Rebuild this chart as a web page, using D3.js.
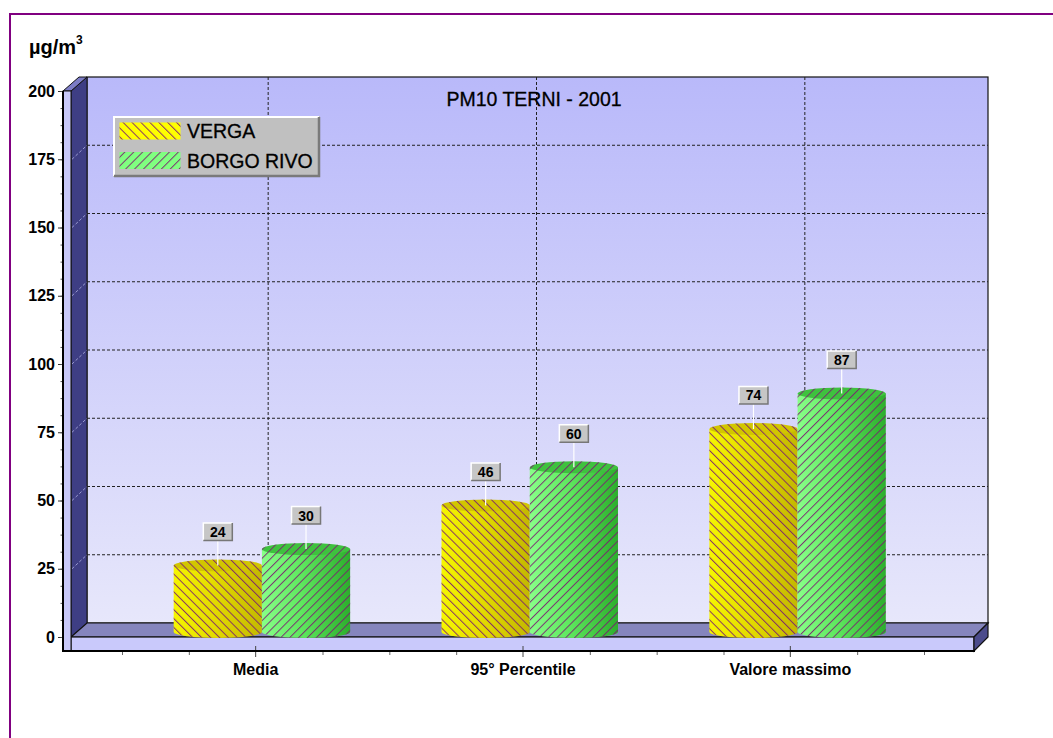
<!DOCTYPE html>
<html><head><meta charset="utf-8">
<script src="https://cdn.jsdelivr.net/npm/d3@7"></script>
<style>html,body{margin:0;padding:0;background:#fff;} svg{display:block;font-family:"Liberation Sans",Arial,sans-serif;}</style>
</head><body><svg id="c" width="1053" height="738"></svg>
<script>
// ---- data ----
const categories = ["Media", "95° Percentile", "Valore massimo"];
const seriesNames = ["VERGA", "BORGO RIVO"];
const verga = [24, 46, 74];
const borgoRivo = [30, 60, 87];
const yTickValues = [0, 25, 50, 75, 100, 125, 150, 175, 200];
const chartTitle = "PM10 TERNI - 2001";
const unitLabel = "µg/m";

const seriesValues = [verga, borgoRivo];
const seriesStyle = [
  {light:"#f6f600", mid:"#e4dc00", dark:"#c4b800", top:"#d2c600", swatch:"#ffff00", rot:-45},
  {light:"#88ff88", mid:"#5ee85e", dark:"#2cae2c", top:"#3ec23e", swatch:"#80ff80", rot:45}
];

const svg = d3.select("#c");
const defs = svg.append("defs");

// ---- geometry ----
const DY = -14;
const y = d3.scaleLinear().domain([0, 200]).range([637, 91]);
const x = d3.scaleBand().domain(categories).range([122, 924]);
const xBack = d3.scaleBand().domain(categories).range([134, 939]);
const xMid = c => (x(c) + x.bandwidth()/2 + xBack(c) + xBack.bandwidth()/2) / 2;
const sub = d3.scaleBand().domain(seriesNames).range([-x.bandwidth()*0.33, x.bandwidth()*0.33]);

// outer frame
svg.append("rect").attr("x",10).attr("y",14).attr("width",1200).attr("height",900)
  .attr("fill","none").attr("stroke","#800080").attr("stroke-width",2);

// gradients
const wallG = defs.append("linearGradient").attr("id","wallG").attr("x1",0).attr("y1",0).attr("x2",0).attr("y2",1);
wallG.append("stop").attr("offset",0).attr("stop-color","#b9b9fa");
wallG.append("stop").attr("offset",1).attr("stop-color","#e7e7fb");

seriesStyle.forEach((s,i)=>{
  const g = defs.append("linearGradient").attr("id","cyl"+i).attr("x1",0).attr("y1",0).attr("x2",1).attr("y2",0);
  g.append("stop").attr("offset",0).attr("stop-color",s.light);
  g.append("stop").attr("offset",0.45).attr("stop-color",s.mid);
  g.append("stop").attr("offset",1).attr("stop-color",s.dark);
  const p = defs.append("pattern").attr("id","hatch"+i).attr("patternUnits","userSpaceOnUse")
    .attr("width",6.3).attr("height",6.3).attr("patternTransform","rotate("+s.rot+")");
  p.append("line").attr("x1",0.5).attr("y1",-1).attr("x2",0.5).attr("y2",8)
    .attr("stroke","#7a2070").attr("stroke-width",1).attr("stroke-opacity",0.9);
});

// back wall
svg.append("rect").attr("x",87).attr("y",77).attr("width",901).attr("height",546)
  .attr("fill","url(#wallG)").attr("stroke","#111").attr("stroke-width",1.2);

// left wall dark face
const poly = pts => "M" + pts.map(p=>p.join(",")).join("L") + "Z";
svg.append("path").attr("d",poly([[71,y(200)],[87,y(200)+DY],[87,y(0)+DY],[71,y(0)]]))
  .attr("fill","#3e3e84").attr("stroke","#111").attr("stroke-width",1);
// wall cap
svg.append("path").attr("d",poly([[63,y(200)],[71,y(200)],[87,y(200)+DY],[79,y(200)+DY]]))
  .attr("fill","#7c7cc6").attr("stroke","#111").attr("stroke-width",1);

// grid lines
const gridVals = yTickValues.filter(v=>v>0 && v<200);
svg.append("g").selectAll("line").data(gridVals).join("line")
  .attr("x1",87).attr("x2",988).attr("y1",d=>y(d)+DY).attr("y2",d=>y(d)+DY)
  .attr("stroke","#222").attr("stroke-width",1).attr("stroke-dasharray","3,2");
svg.append("g").selectAll("line").data(gridVals).join("line")
  .attr("x1",72).attr("x2",87).attr("y1",d=>y(d)).attr("y2",d=>y(d)+DY)
  .attr("stroke","#9a9ad0").attr("stroke-width",1).attr("stroke-dasharray","3,2");
svg.append("g").selectAll("line").data(categories).join("line")
  .attr("x1",d=>xBack(d)+xBack.bandwidth()/2).attr("x2",d=>xBack(d)+xBack.bandwidth()/2)
  .attr("y1",77).attr("y2",y(0)+DY)
  .attr("stroke","#222").attr("stroke-width",1).attr("stroke-dasharray","3,2");

// floor
svg.append("path").attr("d",poly([[71,y(0)],[87,y(0)+DY],[988,y(0)+DY],[974,y(0)]]))
  .attr("fill","#8585bd").attr("stroke","#111").attr("stroke-width",1.2);
svg.append("rect").attr("x",71).attr("y",y(0)).attr("width",903).attr("height",14)
  .attr("fill","#c9c9fb").attr("stroke","#111").attr("stroke-width",1.2);
svg.append("path").attr("d",poly([[974,y(0)],[988,y(0)+DY],[988,y(0)],[974,y(0)+14]]))
  .attr("fill","#4c4c8c").attr("stroke","#111").attr("stroke-width",1.2);
// wall front strip
svg.append("rect").attr("x",63).attr("y",y(200)).attr("width",8).attr("height",y(0)+14-y(200))
  .attr("fill","#c8c8f8").attr("stroke","#111").attr("stroke-width",1);

// cylinders
const RY = 6;
const baseC = y(0) - RY + 1;
const labelsData = [];
seriesNames.forEach((s, si) => {
  const g = svg.append("g");
  categories.forEach((c, ci) => {
    const v = seriesValues[si][ci];
    const x0 = xMid(c) + sub(s);
    const x1 = x0 + sub.bandwidth();
    const rx = sub.bandwidth()/2;
    const cx = x0 + rx;
    const topC = y(v) - RY;
    const body = `M${x0},${topC} L${x0},${baseC} A${rx},${RY} 0 0 0 ${x1},${baseC} L${x1},${topC} Z`;
    g.append("path").attr("d",body).attr("fill","url(#cyl"+si+")");
    g.append("path").attr("d",body).attr("fill","url(#hatch"+si+")");
    g.append("ellipse").attr("cx",cx).attr("cy",topC).attr("rx",rx).attr("ry",RY).attr("fill",seriesStyle[si].top);
    g.append("ellipse").attr("cx",cx).attr("cy",topC).attr("rx",rx).attr("ry",RY).attr("fill","url(#hatch"+si+")");
    labelsData.push({cx, topC, v});
  });
});

// value labels
const lg = svg.append("g");
labelsData.forEach(d => {
  const bw = 29, bh = 17.5;
  const bb = d.topC - 25;
  lg.append("line").attr("x1",d.cx).attr("x2",d.cx).attr("y1",bb).attr("y2",d.topC)
    .attr("stroke","#fff").attr("stroke-width",1.2);
  lg.append("rect").attr("x",d.cx-bw/2).attr("y",bb-bh).attr("width",bw).attr("height",bh).attr("fill","#c6c6c6");
  lg.append("path").attr("d",`M${d.cx-bw/2},${bb} L${d.cx-bw/2},${bb-bh} L${d.cx+bw/2},${bb-bh}`)
    .attr("fill","none").attr("stroke","#fff").attr("stroke-width",1.5);
  lg.append("path").attr("d",`M${d.cx-bw/2},${bb} L${d.cx+bw/2},${bb} L${d.cx+bw/2},${bb-bh}`)
    .attr("fill","none").attr("stroke","#777").attr("stroke-width",1.5);
  lg.append("text").attr("x",d.cx).attr("y",bb-3.5).attr("text-anchor","middle")
    .attr("font-size",14).attr("font-weight","bold").attr("fill","#000").text(d.v);
});

// axes
const yAxis = svg.append("g").attr("transform","translate(63,0)")
  .call(d3.axisLeft(y).tickValues(yTickValues).tickSize(5).tickPadding(3));
yAxis.select(".domain").remove();
yAxis.selectAll("text").attr("font-size",16).attr("font-weight","bold").attr("fill","#000")
  .attr("font-family","Liberation Sans, Arial, sans-serif");
yAxis.selectAll("line").attr("stroke","#333");
const yMinor = svg.append("g").attr("transform","translate(63,0)")
  .call(d3.axisLeft(y).tickValues(d3.range(0, 200.01, 6.25)).tickSize(2.5).tickFormat(""));
yMinor.select(".domain").remove();
yMinor.selectAll("line").attr("stroke","#555");

const xAxis = svg.append("g").attr("transform",`translate(0,${y(0)+14})`)
  .call(d3.axisBottom(x).tickSize(6).tickPadding(7));
xAxis.select(".domain").remove();
xAxis.selectAll("text").attr("font-size",16).attr("font-weight","bold").attr("fill","#000")
  .attr("font-family","Liberation Sans, Arial, sans-serif");
xAxis.selectAll("line").attr("stroke","#444").attr("y1",-5);
const minorX = [];
categories.forEach(c => { [0, 0.25, 0.75].forEach(f => minorX.push(x(c) + f*x.bandwidth())); });
minorX.push(x.range()[1]);
const xm = d3.scaleLinear().domain([0,1053]).range([0,1053]);
const xMinor = svg.append("g").attr("transform",`translate(0,${y(0)+14})`)
  .call(d3.axisBottom(xm).tickValues(minorX).tickSize(4).tickFormat(""));
xMinor.select(".domain").remove();
xMinor.selectAll("line").attr("stroke","#666");

// axis lines
svg.append("line").attr("x1",63).attr("x2",63).attr("y1",y(200)).attr("y2",y(0)+14.5).attr("stroke","#000").attr("stroke-width",2);
svg.append("line").attr("x1",62).attr("x2",975).attr("y1",y(0)+14).attr("y2",y(0)+14).attr("stroke","#000").attr("stroke-width",2.2);

// unit label
const ut = svg.append("text").attr("x",29).attr("y",54).attr("font-size",20).attr("font-weight","bold").attr("fill","#000");
ut.append("tspan").text(unitLabel);
ut.append("tspan").attr("dy",-10).attr("font-size",12).text("3");

// title
svg.append("text").attr("x",534).attr("y",106).attr("text-anchor","middle").attr("font-size",19.5)
  .attr("fill","#000").attr("stroke","#000").attr("stroke-width",0.3).text(chartTitle);

// legend
const leg = svg.append("g");
leg.append("rect").attr("x",113).attr("y",116).attr("width",207).attr("height",61).attr("fill","#c0c0c0");
leg.append("path").attr("d","M114,176 L114,117 L319,117").attr("fill","none").attr("stroke","#fff").attr("stroke-width",2);
leg.append("path").attr("d","M114,176 L319,176 L319,117").attr("fill","none").attr("stroke","#7a7a7a").attr("stroke-width",2.5);
seriesNames.forEach((s, i) => {
  const yy = 122.5 + i*29.5;
  leg.append("rect").attr("x",119.5).attr("y",yy).attr("width",61).attr("height",17).attr("fill",seriesStyle[i].swatch);
  leg.append("rect").attr("x",119.5).attr("y",yy).attr("width",61).attr("height",17).attr("fill","url(#hatch"+i+")");
  leg.append("text").attr("x",187).attr("y",yy+15.5).attr("font-size",19.5).attr("fill","#000")
    .attr("stroke","#000").attr("stroke-width",0.3).text(s);
});
</script></body></html>
